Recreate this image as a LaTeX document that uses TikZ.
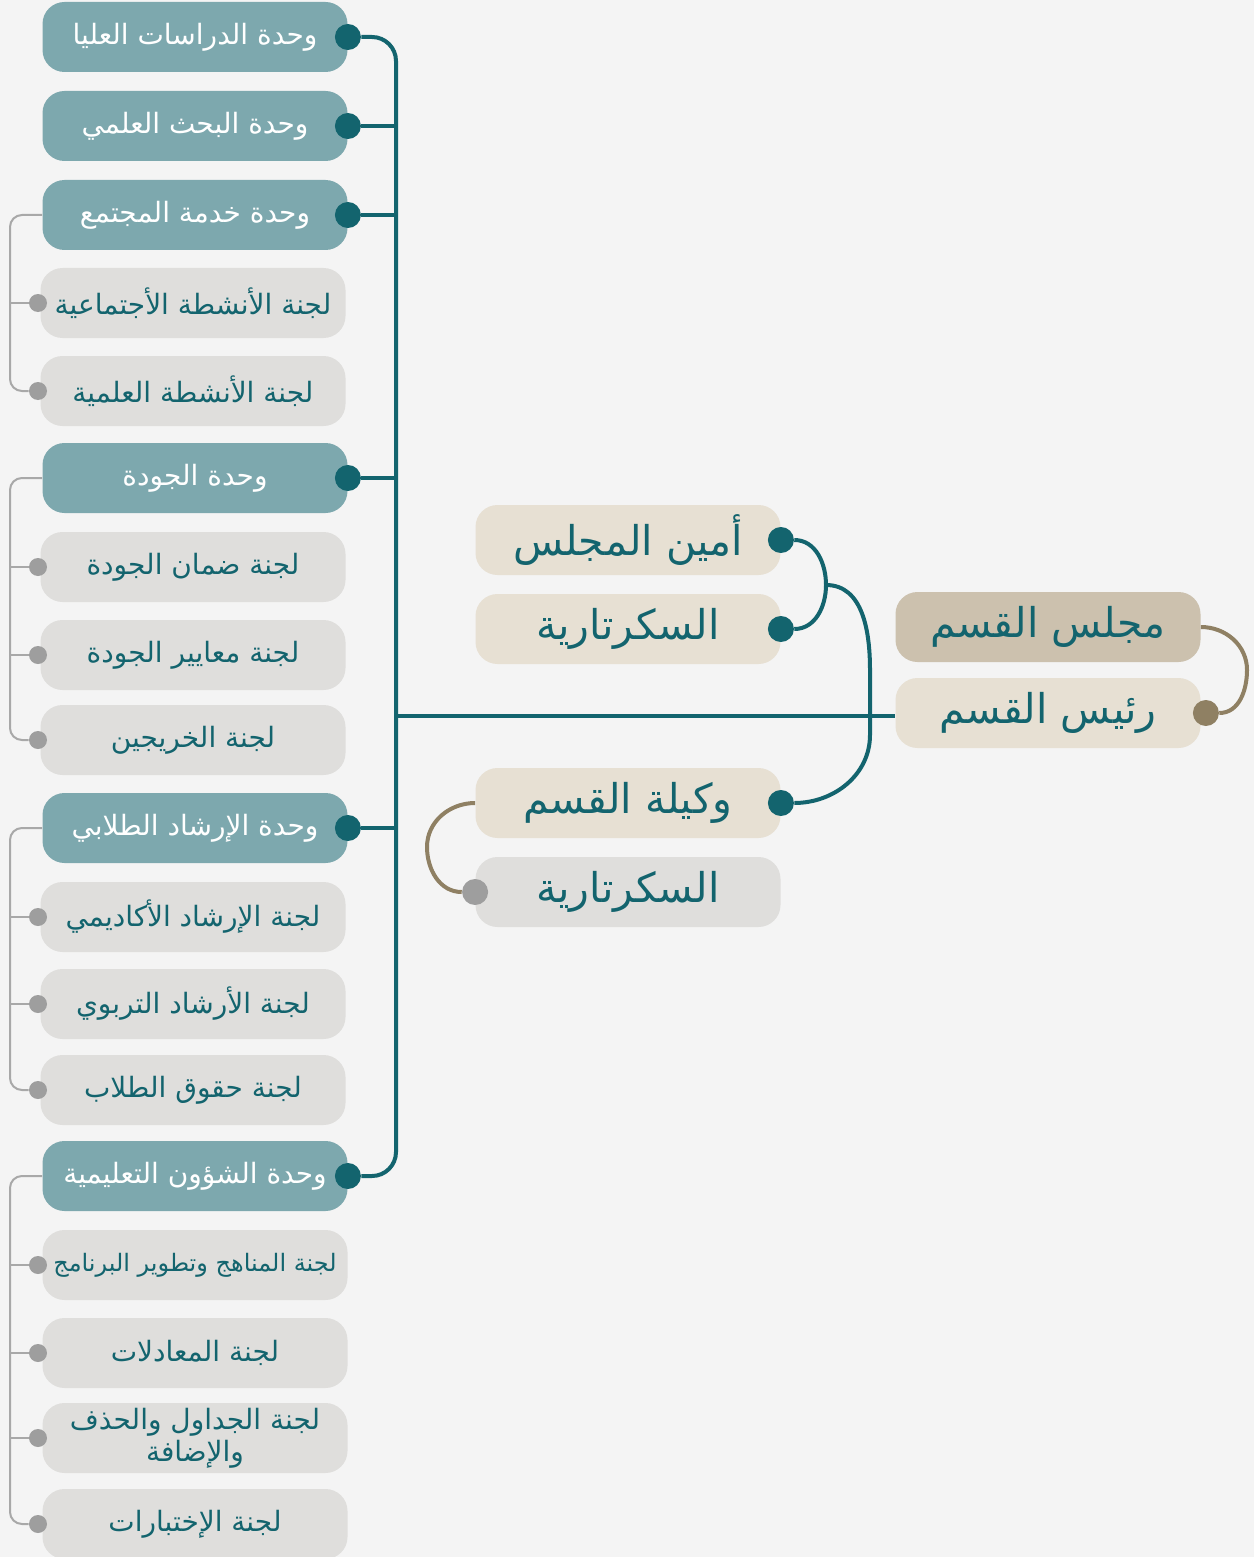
\documentclass[tikz,border=0pt]{standalone}
\usepackage{fontspec}
\TeXXeTstate=1
\newfontfamily\arabicfont[Script=Arabic]{DejaVu Sans}
\usetikzlibrary{calc}
\definecolor{tealdark}{HTML}{13646E}
\definecolor{tealbox}{HTML}{7DA8AE}
\definecolor{graybox}{HTML}{DFDEDC}
\definecolor{beigebox}{HTML}{E7E0D3}
\definecolor{sandbox}{HTML}{CCC1AE}
\definecolor{brownline}{HTML}{8F8063}
\definecolor{greyline}{HTML}{A8A8A8}
\definecolor{greydot}{HTML}{9E9E9E}
\definecolor{paper}{HTML}{F4F4F4}
\def\ar#1{{\arabicfont\beginR #1\endR}}
\def\drawtrunk{\draw[color=tealdark, line width=2pt, rounded corners=12pt]}
\def\drawcurve{\draw[color=tealdark, line width=2pt]}
\def\drawsub{\draw[color=greyline, line width=1pt, rounded corners=6pt]}
\def\drawbrown{\draw[color=brownline, line width=2pt]}
\tikzset{
  box/.style={rounded corners=11pt, minimum width=152.5pt, minimum height=35pt, inner sep=0pt, align=center},
  unitbox/.style={box, fill=tealbox, text=white, font=\fontsize{14}{16}\selectfont},
  subbox/.style={box, fill=graybox, text=tealdark, font=\fontsize{14}{16}\selectfont},
  bigbox/.style={box, fill=beigebox, text=tealdark, font=\fontsize{20.5}{24}\selectfont},
  tdot/.style={circle, fill=tealdark, minimum size=13pt, inner sep=0pt},
  gdot/.style={circle, fill=greydot, minimum size=9pt, inner sep=0pt},
  bdot/.style={circle, fill=brownline, minimum size=13pt, inner sep=0pt}
}
\begin{document}
\begin{tikzpicture}[x=0.5pt,y=-0.5pt]
\useasboundingbox[fill=paper] (0,0) rectangle (1254,1557);
% left column: units and committees
\node[unitbox] (dirasat) at (195,37) {\ar{وحدة الدراسات العليا}};
\node[unitbox] (bahth) at (195,126) {\ar{وحدة البحث العلمي}};
\node[unitbox] (khidma) at (195,215) {\ar{وحدة خدمة المجتمع}};
\node[subbox] (ijtima) at (193,303) {\ar{لجنة الأنشطة الأجتماعية}};
\node[subbox] (ilmiya) at (193,391) {\ar{لجنة الأنشطة العلمية}};
\node[unitbox] (jawda) at (195,478) {\ar{وحدة الجودة}};
\node[subbox] (daman) at (193,567) {\ar{لجنة ضمان الجودة}};
\node[subbox] (maayir) at (193,655) {\ar{لجنة معايير الجودة}};
\node[subbox] (khirij) at (193,740) {\ar{لجنة الخريجين}};
\node[unitbox] (irshad) at (195,828) {\ar{وحدة الإرشاد الطلابي}};
\node[subbox] (akadimi) at (193,917) {\ar{لجنة الإرشاد الأكاديمي}};
\node[subbox] (tarbawi) at (193,1004) {\ar{لجنة الأرشاد التربوي}};
\node[subbox] (huquq) at (193,1090) {\ar{لجنة حقوق الطلاب}};
\node[unitbox] (shuun) at (195,1176) {\ar{وحدة الشؤون التعليمية}};
\node[subbox, font=\fontsize{12}{14}\selectfont] (manahij) at (195,1265) {\ar{لجنة المناهج وتطوير البرنامج}};
\node[subbox] (muadalat) at (195,1353) {\ar{لجنة المعادلات}};
\node[subbox] (jadawil) at (195,1438) {\ar{لجنة الجداول والحذف}\\\ar{والإضافة}};
\node[subbox] (ikhtibar) at (195,1524) {\ar{لجنة الإختبارات}};
% middle and right
\node[bigbox] (amin) at (628,540) {\ar{أمين المجلس}};
\node[bigbox] (sekr) at (628,629) {\ar{السكرتارية}};
\node[bigbox] (wakila) at (628,803) {\ar{وكيلة القسم}};
\node[bigbox, fill=graybox] (sekrb) at (628,892) {\ar{السكرتارية}};
\node[bigbox, fill=sandbox] (majlis) at (1048,627) {\ar{مجلس القسم}};
\node[bigbox] (rais) at (1048,713) {\ar{رئيس القسم}};
% dots
\node[tdot] (d1) at (dirasat.east) {};
\node[tdot] (d2) at (bahth.east) {};
\node[tdot] (d3) at (khidma.east) {};
\node[tdot] (d4) at (jawda.east) {};
\node[tdot] (d5) at (irshad.east) {};
\node[tdot] (d6) at (shuun.east) {};
\node[gdot] (g1) at (38,303) {};
\node[gdot] (g2) at (38,391) {};
\node[gdot] (g3) at (38,567) {};
\node[gdot] (g4) at (38,655) {};
\node[gdot] (g5) at (38,740) {};
\node[gdot] (g6) at (38,917) {};
\node[gdot] (g7) at (38,1004) {};
\node[gdot] (g8) at (38,1090) {};
\node[gdot] (g9) at (38,1265) {};
\node[gdot] (g10) at (38,1353) {};
\node[gdot] (g11) at (38,1438) {};
\node[gdot] (g12) at (38,1524) {};
\node[tdot] (da) at (amin.east) {};
\node[tdot] (ds) at (sekr.east) {};
\node[tdot] (dw) at (wakila.east) {};
\node[gdot, minimum size=13pt] (dsb) at (sekrb.west) {};
\node[bdot] (dr) at ($(rais.east)+(5,0)$) {};
% teal trunk
\coordinate (tk) at (396,716);
\drawtrunk (d1) -| (tk) |- (d6);
\drawtrunk (d2) -- (d2 -| tk);
\drawtrunk (d3) -- (d3 -| tk);
\drawtrunk (d4) -- (d4 -| tk);
\drawtrunk (d5) -- (d5 -| tk);
\drawtrunk (tk) -- (tk -| rais.west);
% bracket of the council
\coordinate (br) at (826,585);
\coordinate (bu) at (870,670);
\coordinate (bd) at (870,735);
\drawcurve (da) to[out=0,in=90] (br) to[out=-90,in=0] (ds);
\drawcurve (br) to[out=0,in=90] (bu) -- (bd) to[out=-90,in=0] (dw);
% grey committee links
\drawsub (khidma.west) -| (10,350) |- (g2);
\drawsub (g1) -- (g1 -| 10,0);
\drawsub (jawda.west) -| (10,600) |- (g5);
\drawsub (g3) -- (g3 -| 10,0);
\drawsub (g4) -- (g4 -| 10,0);
\drawsub (irshad.west) -| (10,950) |- (g8);
\drawsub (g6) -- (g6 -| 10,0);
\drawsub (g7) -- (g7 -| 10,0);
\drawsub (shuun.west) -| (10,1300) |- (g12);
\drawsub (g9) -- (g9 -| 10,0);
\drawsub (g10) -- (g10 -| 10,0);
\drawsub (g11) -- (g11 -| 10,0);
% brown links
\coordinate (rb) at (1247,670);
\coordinate (lb) at (427,847);
\drawbrown (majlis.east) to[out=0,in=90] (rb) to[out=-90,in=0] (dr);
\drawbrown (wakila.west) to[out=180,in=90] (lb) to[out=-90,in=180] (dsb);
\end{tikzpicture}
\end{document}
